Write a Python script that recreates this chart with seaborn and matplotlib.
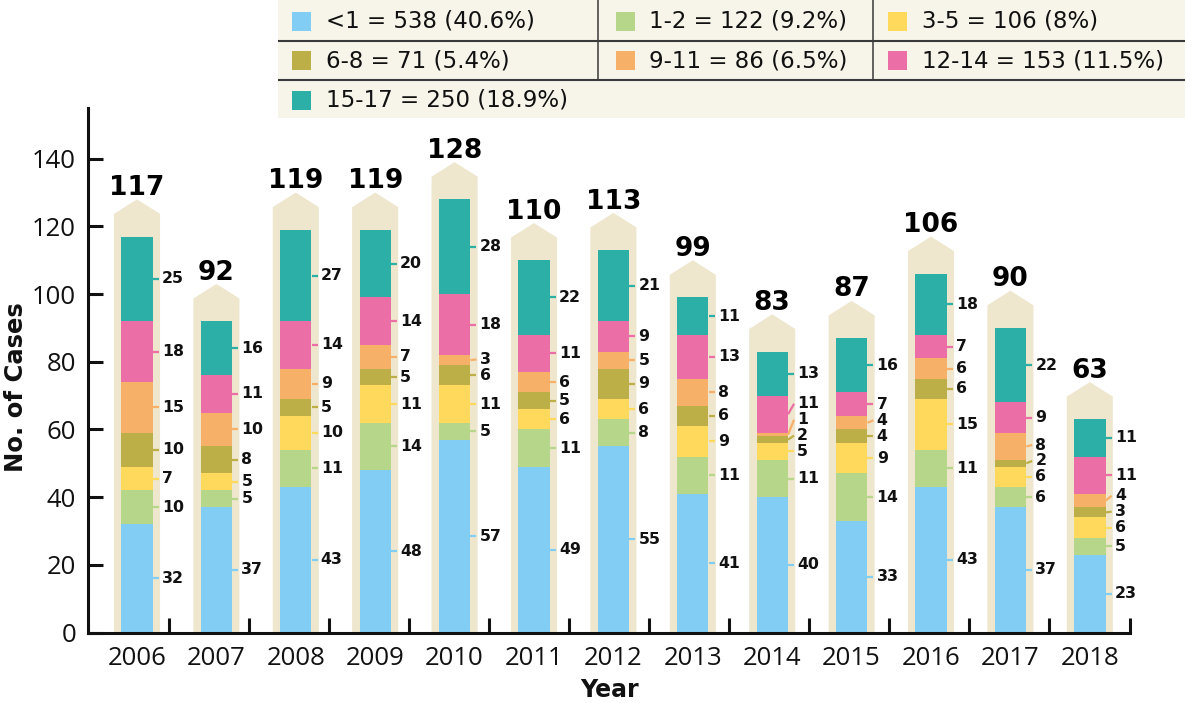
import numpy as np
import pandas as pd
import matplotlib
matplotlib.use("Agg")
import matplotlib.pyplot as plt
from matplotlib.patches import Polygon, Rectangle
import seaborn as sns

# ---- data -------------------------------------------------------------
years = ["2006", "2007", "2008", "2009", "2010", "2011", "2012",
         "2013", "2014", "2015", "2016", "2017", "2018"]
age_groups = ["<1", "1-2", "3-5", "6-8", "9-11", "12-14", "15-17"]

under_1 = [32, 37, 43, 48, 57, 49, 55, 41, 40, 33, 43, 37, 23]
age_1_2 = [10, 5, 11, 14, 5, 11, 8, 11, 11, 14, 11, 6, 5]
age_3_5 = [7, 5, 10, 11, 11, 6, 6, 9, 5, 9, 15, 6, 6]
age_6_8 = [10, 8, 5, 5, 6, 5, 9, 6, 2, 4, 6, 2, 3]
age_9_11 = [15, 10, 9, 7, 3, 6, 5, 8, 1, 4, 6, 8, 4]
age_12_14 = [18, 11, 14, 14, 18, 11, 9, 13, 11, 7, 7, 9, 11]
age_15_17 = [25, 16, 27, 20, 28, 22, 21, 11, 13, 16, 18, 22, 11]

y_ticks = [0, 20, 40, 60, 80, 100, 120, 140]

# ---- styling ----------------------------------------------------------
colors = ["#82cdf3", "#b6d78a", "#fed95b", "#bcaf47",
          "#f7b068", "#eb6fa6", "#2bafa7"]
beige = "#eee6cd"
legend_bg = "#f7f5e9"
ink = "#111111"

sns.set_style("white")
plt.rcParams["font.family"] = ["Open Sans", "DejaVu Sans"]

counts = pd.DataFrame(
    {g: v for g, v in zip(age_groups, [under_1, age_1_2, age_3_5, age_6_8,
                                       age_9_11, age_12_14, age_15_17])},
    index=years)
cum = counts.cumsum(axis=1)
totals = cum[age_groups[-1]]

W, H = 1185, 703
fig = plt.figure(figsize=(W / 100, H / 100), dpi=100)
ax_l, ax_r, ax_b, ax_t = 88, 1130, 632.5, 108
ax = fig.add_axes([ax_l / W, (H - ax_b) / H, (ax_r - ax_l) / W, (ax_b - ax_t) / H])

# stacked bars: cumulative heights drawn from the top layer down
for j in reversed(range(len(age_groups))):
    sns.barplot(x=years, y=cum[age_groups[j]].values, order=years,
                color=colors[j], saturation=1, width=0.395, linewidth=0,
                errorbar=None, ax=ax, zorder=2)

# pencil-shaped backdrop behind each bar, with the year total on top
half = 0.29
for i, t in enumerate(totals):
    ax.add_patch(Polygon([(i - half, 0), (i - half, t + 6.7), (i, t + 11),
                          (i + half, t + 6.7), (i + half, 0)],
                         closed=True, fc=beige, ec="none", zorder=0.5))
    ax.text(i, t + 12.3, str(t), ha="center", va="baseline", fontsize=19,
            fontweight="heavy", family="DejaVu Sans", color="black", zorder=4)

# segment value labels with leader ticks, nudged apart when crowded
gap = 4.7
for i, yr in enumerate(years):
    vals = counts.loc[yr].values
    tops = cum.loc[yr].values
    mids = tops - vals / 2
    lab = mids.copy()
    for j in range(1, len(lab)):
        lab[j] = max(lab[j], lab[j - 1] + gap)
    for j in range(len(vals)):
        ax.plot([i + 0.2, i + 0.275], [mids[j], lab[j]], color=colors[j],
                lw=1.6, solid_capstyle="butt", zorder=3)
        ax.text(i + 0.315, lab[j], str(vals[j]), ha="left", va="center",
                fontsize=11.3, fontweight="bold", family="DejaVu Sans",
                color=ink, zorder=4)

# axes
ax.set_xlim(-0.617, 12.506)
ax.set_ylim(0, 155)
sns.despine(ax=ax)
for s in ("left", "bottom"):
    ax.spines[s].set_linewidth(2.2)
    ax.spines[s].set_color(ink)

ax.set_yticks(y_ticks)
ax.tick_params(axis="y", direction="in", length=10.8, width=2.2,
               pad=8.5, labelsize=18.5, colors=ink, left=True)
ax.set_xticks(range(len(years)), labels=years)
ax.set_xticks(np.linspace(0.403, 12.5, len(years)), minor=True)
ax.tick_params(axis="x", which="major", length=0, pad=9.5, labelsize=18.5,
               colors=ink)
ax.tick_params(axis="x", which="minor", direction="in", length=10.8,
               width=2.2, color=ink, bottom=True)

ax.set_xlabel("Year", fontsize=17, fontweight="bold", family="DejaVu Sans",
              va="center", color=ink)
ax.xaxis.set_label_coords(0.5, -(690 - ax_b) / (ax_b - ax_t))
ax.set_ylabel("No. of Cases", fontsize=17.5, fontweight="bold",
              family="DejaVu Sans", va="center", color=ink)
ax.yaxis.set_label_coords(-(ax_l - 16) / (ax_r - ax_l), (ax_b - 387.5) / (ax_b - ax_t))

# ---- legend panel ------------------------------------------------------
lx0, ly1 = 278, 118
lax = fig.add_axes([lx0 / W, (H - ly1) / H, (W - lx0) / W, ly1 / H])
lax.set_xlim(lx0, W)
lax.set_ylim(ly1, 0)
lax.axis("off")
lax.add_patch(Rectangle((lx0, 0), W - lx0, ly1, fc=legend_bg, ec="none"))
for yy in (40.5, 79.5):
    lax.plot([lx0, W], [yy, yy], color="#3a3a3a", lw=1.5)
for xx in (598, 873):
    lax.plot([xx, xx], [0, 79.5], color="#3a3a3a", lw=1.1)

grand = counts.values.sum()
col_x = [(292, 326), (616, 649), (888, 922)]
row_y = [21, 60.5, 100]
for k, g in enumerate(age_groups):
    n = int(counts[g].sum())
    pct = f"{100 * n / grand:.1f}".rstrip("0").rstrip(".")
    r, c = divmod(k, 3)
    sx, tx = col_x[c]
    cy = row_y[r]
    lax.add_patch(Rectangle((sx, cy - 9.5), 19, 19, fc=colors[k], ec="none"))
    lax.text(tx, cy, f"{g} = {n} ({pct}%)", ha="left", va="center",
             fontsize=16.5, family="DejaVu Sans", color=ink)

fig.savefig("out.png", dpi=100)
